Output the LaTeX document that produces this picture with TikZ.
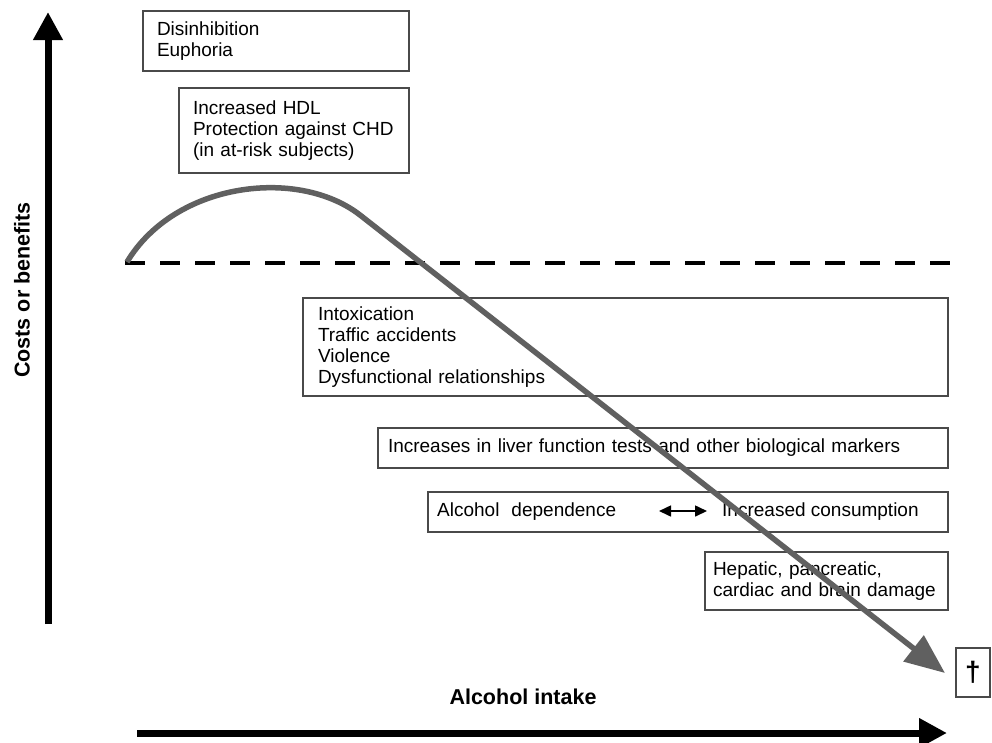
\documentclass[tikz,border=0pt]{standalone}
\usepackage{fontspec}
\setmainfont{Liberation Sans}
\usetikzlibrary{arrows.meta}
\definecolor{boxline}{HTML}{4a4a4a}
\definecolor{curvegray}{HTML}{606060}
\begin{document}
\begin{tikzpicture}[x=1pt,y=-1pt,
  txtbox/.style={draw=boxline, line width=1.1pt, inner ysep=0pt, align=left,
    font=\fontsize{19}{21}\selectfont},
  plain/.style={inner sep=0pt, font=\fontsize{19}{21}\selectfont},
  axislabel/.style={inner sep=0pt, font=\bfseries\fontsize{21.5}{25}\selectfont},
  axis/.style={line width=7pt, -{Triangle[length=28pt,width=28pt]}},
  smallarrow/.style={line width=1.6pt, {Triangle[length=12pt,width=11pt]}-{Triangle[length=12pt,width=11pt]}}
]
\useasboundingbox (0,0) rectangle (992,742);
\fill[white] (0,0) rectangle (992,742);

% axes
\coordinate (ybot) at (48,624);
\coordinate (ytop) at (48,12);
\coordinate (xleft) at (137,733);
\coordinate (xright) at (947,733);
\draw[axis] (ybot) -- (ytop);
\draw[axis] (xleft) -- (xright);
\node[axislabel, rotate=90] (ylab) at (22,290) {Costs or benefits};
\node[axislabel] (xlab) at (523,697) {Alcohol intake};

% dashed zero line
\coordinate (dl) at (125,263);
\coordinate (dr) at (957,263);
\draw[line width=4.5pt, dash pattern=on 20pt off 15pt] (dl) -- (dr);

% boxes
\node[txtbox, inner xsep=14pt, text width=238pt, minimum height=60pt] (b1) at (276,41) {Disinhibition\\Euphoria};
\node[txtbox, inner xsep=14pt, text width=202pt, minimum height=85pt] (b2) at (294,130.5) {Increased HDL\\Protection against CHD\\(in at-risk subjects)};
\node[txtbox, inner xsep=15pt, text width=615pt, minimum height=98pt] (b3) at (625.5,347) {Intoxication\\Traffic accidents\\Violence\\Dysfunctional relationships};
\node[txtbox, inner xsep=10pt, text width=550pt, minimum height=40pt] (b4) at (663,448) {Increases in liver function tests and other biological markers};
\node[txtbox, inner sep=0pt, minimum width=520pt, minimum height=40pt] (b5) at (688,512) {};
\node[plain, anchor=west] (dep) at (437,512) {Alcohol\hspace{12pt}dependence};
\node[plain, anchor=west] (inc) at (722,512) {Increased consumption};
\coordinate (al) at (659,511);
\coordinate (ar) at (707,511);
\draw[smallarrow] (al) -- (ar);
\node[txtbox, inner xsep=8pt, text width=227pt, minimum height=58pt] (b6) at (826.5,581) {Hepatic, pancreatic,\\cardiac and brain damage};
\node[txtbox, inner sep=0pt, minimum width=34pt, minimum height=49pt, font=\bfseries\fontsize{28}{28}\selectfont] (b7) at (973,672.5) {†};

% main curve
\coordinate (c0) at (127,262);
\coordinate (c1) at (360,215);
\coordinate (tip) at (945,673);
\draw[curvegray, line width=5.5pt, -{Triangle[length=40pt,width=32pt]}] (c0) .. controls (175,182) and (298,167) .. (c1) -- (tip);
\end{tikzpicture}
\end{document}
